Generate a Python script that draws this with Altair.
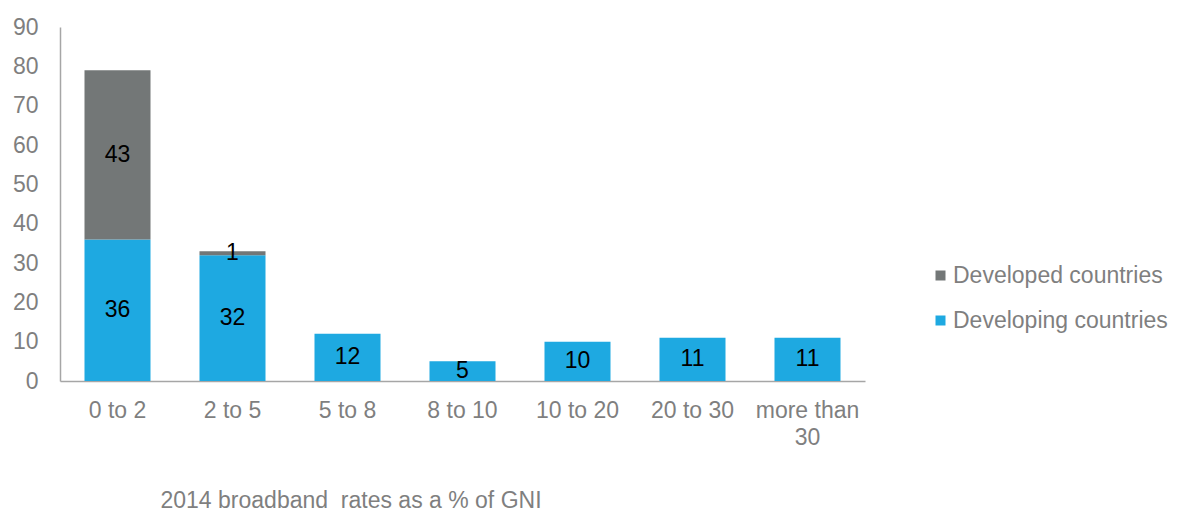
import altair as alt
import pandas as pd

categories = ["0 to 2", "2 to 5", "5 to 8", "8 to 10", "10 to 20", "20 to 30", "more than 30"]
developing = [36, 32, 12, 5, 10, 11, 11]
developed = [43, 1, 0, 0, 0, 0, 0]
series = ["Developed countries", "Developing countries"]
colors = ["#737777", "#1EA9E1"]
y_ticks = [0, 10, 20, 30, 40, 50, 60, 70, 80, 90]

rows = []
for c, dv, dd in zip(categories, developing, developed):
    rows.append({"cat": c, "series": "Developing countries", "value": dv, "ord": 0})
    rows.append({"cat": c, "series": "Developed countries", "value": dd, "ord": 1})
df = pd.DataFrame(rows)

FONT = "Liberation Sans"
GRAY = "#7F7F7F"

x_axis = alt.Axis(
    title="2014 broadband\u00a0 rates as a % of GNI",
    titleX=100, titleY=126, titleAlign="left", titleBaseline="alphabetic",
    titleAnchor="start",
    titleFont=FONT, titleFontSize=23, titleFontWeight="normal", titleColor=GRAY,
    labelExpr="datum.label == 'more than 30' ? ['more than', '30'] : datum.label",
    labelAngle=0, labelFont=FONT, labelFontSize=23, labelColor=GRAY,
    labelPadding=18, labelLineHeight=27,
    ticks=False, domainColor="#A6A6A6", domainWidth=1.5,
)
y_axis = alt.Axis(
    title=None, values=y_ticks,
    grid=False, ticks=False, labelPadding=22, labelOverlap=False,
    labelFont=FONT, labelFontSize=23, labelColor=GRAY,
    domainColor="#A6A6A6", domainWidth=1.5,
)
x_scale = alt.Scale(paddingInner=0.426, paddingOuter=0.213)
y_scale = alt.Scale(domain=[0, 90], nice=False)

bars = alt.Chart(df).mark_bar().encode(
    x=alt.X("cat:N", sort=categories, scale=x_scale, axis=x_axis),
    y=alt.Y("value:Q", stack="zero", scale=y_scale, axis=y_axis),
    color=alt.Color(
        "series:N",
        scale=alt.Scale(domain=series, range=colors),
        legend=alt.Legend(
            title=None, orient="none", legendX=869, legendY=237,
            symbolType="square", symbolSize=100, symbolStrokeWidth=0,
            labelFont=FONT, labelFontSize=23, labelColor=GRAY, labelLimit=0,
            labelOffset=1, rowPadding=21, padding=0,
        ),
    ),
    order=alt.Order("ord:Q"),
)

labels = alt.Chart(df).transform_filter("datum.value > 0").transform_stack(
    stack="value", groupby=["cat"], as_=["v0", "v1"], sort=[alt.SortField("ord")]
).transform_calculate(mid="(datum.v0 + datum.v1) / 2").mark_text(
    font=FONT, fontSize=23, color="#000000", baseline="middle", align="center"
).encode(
    x=alt.X("cat:N", sort=categories, scale=x_scale, axis=x_axis),
    y=alt.Y("mid:Q", scale=y_scale, axis=y_axis),
    text="value:Q",
)

chart = alt.layer(bars, labels).properties(
    width=805, height=354,
    autosize=alt.AutoSizeParams(type="none"),
    padding={"left": 52, "top": 19, "right": 306, "bottom": 136},
).configure_view(stroke=None)

chart.save("out.html", embed_options={"renderer": "svg", "actions": False})
